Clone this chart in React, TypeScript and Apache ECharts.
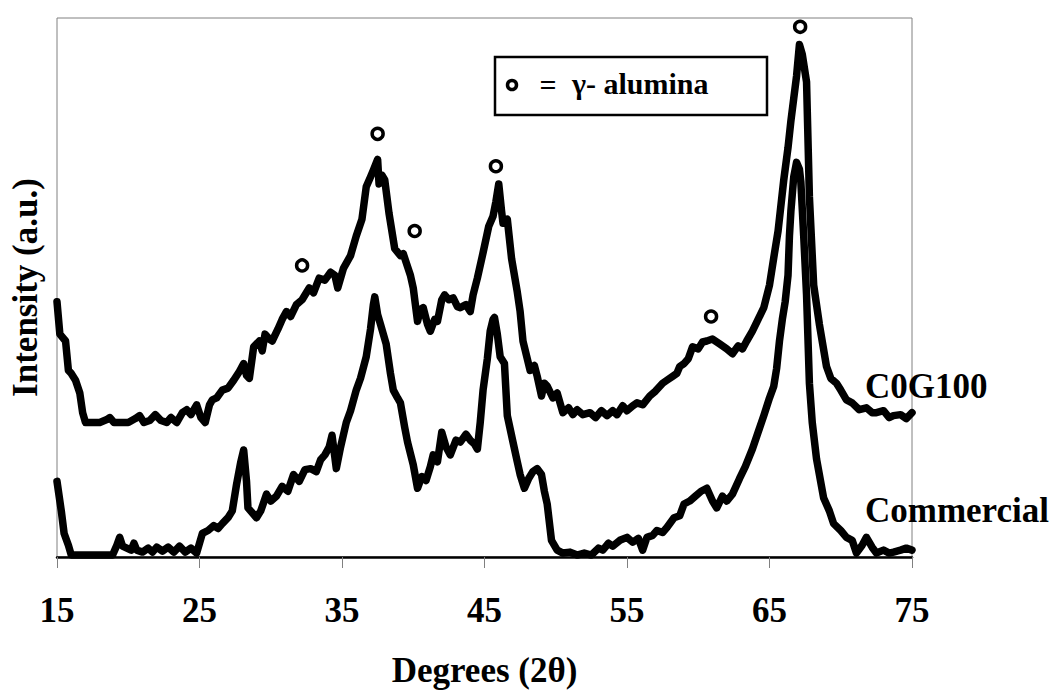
import React, { useEffect, useRef } from "react";
import * as echarts from "echarts";

// x axis ticks (degrees 2θ)
const xTicks = [15, 25, 35, 45, 55, 65, 75];

// Commercial pattern: [2θ, intensity (a.u.)]
const commercial: [number, number][] = [
  [15.0, 77], [15.3, 47], [15.5, 24], [15.8, 12], [16.0, 2], [16.5, 2], [17.0, 2], [18.0, 2], [18.9, 2],
  [19.2, 12], [19.4, 20], [19.6, 11], [19.9, 9], [20.2, 7], [20.4, 14], [20.6, 7], [21.0, 5], [21.4, 9],
  [21.7, 5], [22.0, 10], [22.4, 6], [22.8, 10], [23.2, 5], [23.6, 11], [24.0, 5], [24.4, 9], [24.8, 4],
  [25.2, 24], [25.6, 27], [26.0, 32], [26.3, 29], [26.6, 34], [27.0, 40], [27.3, 47], [27.6, 74], [27.9, 97],
  [28.1, 109], [28.3, 77], [28.4, 50], [28.7, 45], [29.0, 40], [29.3, 47], [29.7, 64], [30.0, 57], [30.4, 62],
  [30.8, 72], [31.2, 67], [31.6, 84], [32.0, 77], [32.4, 89], [32.8, 90], [33.2, 87], [33.5, 99], [33.8, 104],
  [34.1, 112], [34.3, 124], [34.6, 90], [34.9, 112], [35.3, 137], [35.6, 149], [36.0, 170], [36.3, 182],
  [36.7, 204], [37.0, 232], [37.2, 257], [37.3, 265], [37.5, 247], [37.7, 237], [38.1, 217], [38.4, 187],
  [38.6, 170], [38.9, 162], [39.1, 157], [39.4, 132], [39.6, 117], [40.0, 94], [40.3, 70], [40.6, 82],
  [40.9, 78], [41.2, 92], [41.4, 104], [41.7, 97], [42.0, 127], [42.3, 112], [42.6, 104], [43.0, 119],
  [43.3, 117], [43.7, 125], [44.0, 119], [44.3, 115], [44.5, 110], [44.7, 137], [44.9, 170], [45.2, 202],
  [45.4, 230], [45.6, 242], [45.7, 244], [45.9, 227], [46.1, 204], [46.4, 197], [46.6, 144], [47.0, 117],
  [47.3, 97], [47.5, 84], [47.8, 70], [48.1, 80], [48.4, 87], [48.7, 90], [49.0, 84], [49.2, 67], [49.4, 54],
  [49.7, 17], [50.1, 7], [50.5, 4], [51.0, 5], [51.5, 2], [52.0, 4], [52.5, 2], [53.0, 9], [53.3, 7],
  [53.7, 14], [54.0, 11], [54.5, 17], [55.0, 20], [55.4, 15], [55.8, 19], [56.1, 7], [56.4, 20], [56.8, 22],
  [57.1, 27], [57.5, 25], [57.8, 30], [58.3, 40], [58.7, 42], [59.0, 54], [59.4, 57], [59.8, 62], [60.2, 67],
  [60.6, 70], [61.0, 57], [61.3, 50], [61.7, 62], [62.0, 57], [62.4, 64], [62.9, 80], [63.3, 92], [63.8, 110],
  [64.2, 127], [64.6, 144], [65.0, 162], [65.3, 174], [65.5, 192], [65.7, 220], [65.9, 242], [66.1, 260],
  [66.3, 287], [66.4, 327], [66.5, 352], [66.7, 387], [66.9, 402], [67.1, 395], [67.2, 382], [67.4, 327],
  [67.6, 267], [67.8, 177], [68.0, 137], [68.3, 100], [68.8, 60], [69.2, 47], [69.5, 34], [70.0, 27],
  [70.4, 20], [70.8, 17], [71.1, 4], [71.5, 12], [71.8, 20], [72.2, 10], [72.5, 4], [73.0, 7], [73.4, 4],
  [73.7, 5], [74.2, 7], [74.6, 9], [75.0, 7],
];

// C0G100 pattern: [2θ, intensity (a.u.)]
const c0g100: [number, number][] = [
  [15.0, 260], [15.2, 227], [15.6, 220], [15.8, 190], [16.0, 187], [16.3, 180], [16.6, 167], [16.8, 147],
  [17.0, 137], [17.5, 137], [18.0, 137], [18.5, 140], [18.7, 142], [19.0, 137], [19.5, 137], [20.0, 137],
  [20.5, 141], [20.8, 144], [21.1, 137], [21.5, 139], [21.9, 145], [22.3, 139], [22.7, 137], [23.0, 142],
  [23.4, 137], [23.8, 147], [24.1, 150], [24.4, 145], [24.8, 155], [25.1, 142], [25.4, 137], [25.7, 155],
  [25.9, 160], [26.2, 162], [26.6, 170], [27.0, 172], [27.4, 180], [27.8, 189], [28.1, 197], [28.3, 185],
  [28.5, 182], [28.8, 214], [29.2, 220], [29.4, 210], [29.6, 227], [29.9, 222], [30.1, 220], [30.5, 232],
  [30.8, 242], [31.1, 250], [31.4, 245], [31.8, 257], [32.2, 262], [32.7, 274], [33.0, 269], [33.4, 284],
  [33.8, 282], [34.2, 290], [34.5, 287], [34.7, 274], [35.1, 294], [35.6, 307], [36.0, 327], [36.4, 344],
  [36.7, 377], [37.0, 387], [37.2, 394], [37.5, 405], [37.6, 380], [37.8, 389], [38.0, 384], [38.3, 350],
  [38.7, 314], [39.1, 307], [39.3, 309], [39.5, 300], [39.8, 287], [40.0, 274], [40.3, 240], [40.5, 252],
  [40.7, 254], [41.0, 237], [41.2, 230], [41.5, 242], [41.7, 240], [42.0, 262], [42.2, 267], [42.5, 262],
  [42.8, 264], [43.1, 255], [43.3, 254], [43.7, 257], [44.0, 250], [44.2, 267], [44.5, 284], [44.9, 310],
  [45.3, 337], [45.6, 347], [45.8, 362], [46.0, 380], [46.2, 352], [46.3, 340], [46.6, 344], [46.9, 304],
  [47.3, 270], [47.5, 250], [47.7, 220], [48.0, 202], [48.2, 190], [48.5, 195], [48.7, 184], [49.0, 164],
  [49.2, 177], [49.4, 174], [49.8, 162], [50.1, 167], [50.5, 147], [50.9, 152], [51.2, 145], [51.5, 150],
  [51.9, 145], [52.4, 147], [52.8, 142], [53.2, 149], [53.6, 144], [54.0, 149], [54.3, 145], [54.7, 154],
  [55.0, 149], [55.4, 154], [55.7, 157], [56.1, 155], [56.6, 164], [57.0, 169], [57.5, 177], [57.8, 180],
  [58.2, 184], [58.5, 187], [58.7, 194], [59.0, 197], [59.3, 202], [59.6, 214], [60.0, 212], [60.3, 219],
  [60.6, 220], [61.0, 222], [61.5, 217], [62.0, 212], [62.4, 207], [62.8, 215], [63.1, 212], [63.4, 220],
  [63.8, 230], [64.2, 242], [64.6, 254], [65.0, 277], [65.3, 305], [65.6, 332], [66.0, 384], [66.3, 417],
  [66.5, 444], [66.7, 467], [66.9, 490], [67.1, 522], [67.3, 512], [67.6, 484], [67.8, 367], [68.0, 307],
  [68.1, 277], [68.5, 237], [69.0, 194], [69.3, 182], [69.7, 177], [70.0, 170], [70.4, 160], [70.8, 157],
  [71.3, 150], [71.8, 152], [72.2, 147], [72.5, 147], [73.0, 149], [73.4, 142], [73.7, 144], [74.2, 145],
  [74.6, 141], [75.0, 147],
];

// γ-alumina reflections marked with open circles: [2θ, intensity (a.u.)]
const aluminaPeaks: [number, number][] = [
  [32.2, 297], [37.5, 431], [40.1, 332], [45.8, 398], [60.9, 245], [67.15, 540],
];

const seriesLabels = ["C0G100", "Commercial"];
const legendLabel = "γ- alumina";
const xTitle = "Degrees (2θ)";
const yTitle = "Intensity (a.u.)";

const FAMILY = "Liberation Serif";

export default function App() {
  const ref = useRef<HTMLDivElement>(null);
  useEffect(() => {
    if (!ref.current) return;
    const chart = echarts.init(ref.current, null, { renderer: "svg" });
    const bold = { fontFamily: FAMILY, fontWeight: "bold" as const, color: "#000" };
    const gText = (text: string, x: number, y: number, size: number, align: string, z: number) => ({
      type: "text",
      x,
      y,
      z,
      style: {
        text,
        font: `bold ${size}px "${FAMILY}", "Times New Roman", serif`,
        fontSize: size,
        fontFamily: FAMILY,
        fontWeight: "bold",
        fill: "#000",
        align,
        verticalAlign: "middle",
      },
    });
    chart.setOption({
      animation: false,
      grid: {
        left: 57, right: 147, top: 18, bottom: 126,
        show: true, borderColor: "#808080", borderWidth: 1, backgroundColor: "transparent",
      },
      xAxis: [
        {
          type: "value",
          min: xTicks[0],
          max: xTicks[xTicks.length - 1],
          interval: xTicks[1] - xTicks[0],
          position: "bottom",
          axisLine: { show: true, onZero: false, lineStyle: { color: "#000", width: 2.5 } },
          axisTick: { show: true, inside: false, length: 11, lineStyle: { color: "#808080", width: 1 } },
          axisLabel: { margin: 36, fontSize: 35, ...bold },
          splitLine: { show: false },
          name: xTitle,
          nameLocation: "middle",
          nameGap: 96,
          nameTextStyle: { fontSize: 35, ...bold },
        },
        {
          type: "value",
          min: xTicks[0],
          max: xTicks[xTicks.length - 1],
          position: "top",
          axisLine: { show: true, lineStyle: { color: "#000", width: 1.2 } },
          axisTick: { show: false },
          axisLabel: { show: false },
          splitLine: { show: false },
        },
      ],
      yAxis: {
        type: "value",
        min: 0,
        max: 549,
        axisLine: { show: false },
        axisTick: { show: false },
        axisLabel: { show: false },
        splitLine: { show: false },
        name: yTitle,
        nameLocation: "middle",
        nameGap: 14,
        nameTextStyle: { fontSize: 35, ...bold },
      },
      series: [
        {
          type: "line",
          name: seriesLabels[1],
          data: commercial,
          symbol: "none",
          showSymbol: false,
          lineStyle: { color: "#000", width: 7.5, join: "round", cap: "round" },
          z: 2,
        },
        {
          type: "line",
          name: seriesLabels[0],
          data: c0g100,
          symbol: "none",
          showSymbol: false,
          lineStyle: { color: "#000", width: 7.5, join: "round", cap: "round" },
          z: 2,
        },
        {
          type: "scatter",
          name: legendLabel,
          data: aluminaPeaks,
          symbol: "circle",
          symbolSize: 11,
          itemStyle: { color: "#fff", borderColor: "#000", borderWidth: 3.5, opacity: 1 },
          z: 5,
        },
      ],
      graphic: [
        {
          type: "rect",
          shape: { x: 495, y: 57, width: 272, height: 58 },
          style: { fill: "#fff", stroke: "#000", lineWidth: 2.5 },
          z: 10,
        },
        {
          type: "circle",
          shape: { cx: 512, cy: 85, r: 4.5 },
          style: { fill: "#fff", stroke: "#000", lineWidth: 3.5 },
          z: 11,
        },
        gText("=", 548, 84, 30, "center", 11),
        gText(legendLabel, 572, 83, 30, "left", 11),
        gText(seriesLabels[0], 865, 386, 35, "left", 0),
        gText(seriesLabels[1], 865, 510, 35, "left", 0),
      ],
    });
    return () => chart.dispose();
  }, []);
  return (
    <div
      ref={ref}
      style={{ position: "fixed", left: 0, top: 0, width: 1059, height: 693, background: "#fff" }}
    />
  );
}
